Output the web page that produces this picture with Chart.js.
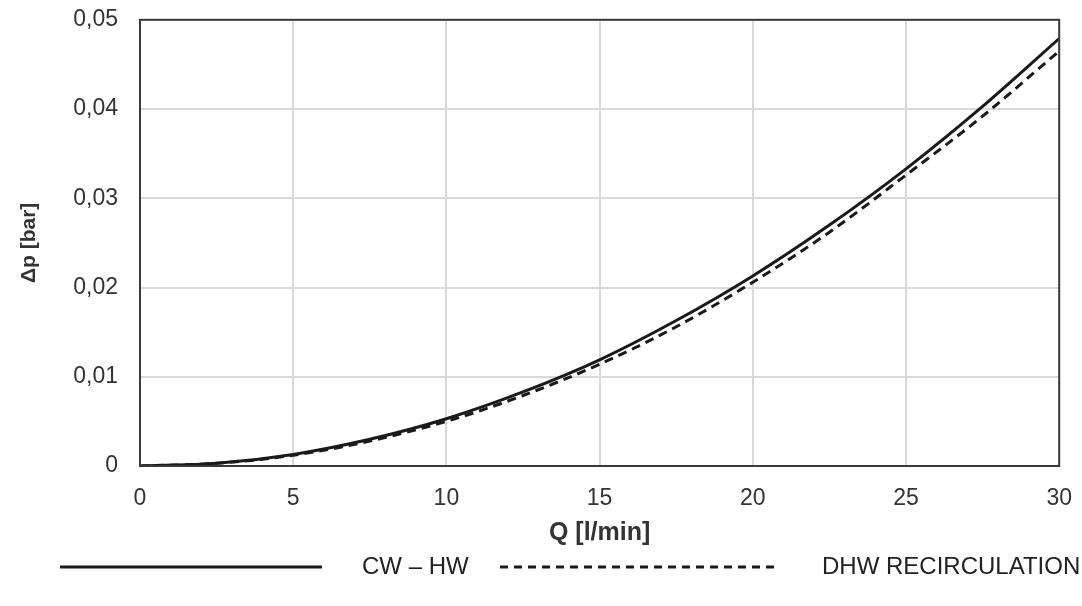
<!DOCTYPE html>
<html>
<head>
<meta charset="utf-8">
<script src="https://cdn.jsdelivr.net/npm/chart.js"></script>
<style>
  html, body { margin: 0; padding: 0; background: #fff; }
  #page { width: 1082px; height: 606px; position: relative; overflow: hidden; }
  #wrap { width: 1091px; height: 622px; position: absolute; left: 0; top: -16px; }
</style>
</head>
<body>
<div id="page"><div id="wrap"><canvas id="chart"></canvas></div></div>
<script>
// Q [l/min]
const flow = [0, 2.5, 5, 7.5, 10, 12.5, 15, 17.5, 20, 22.5, 25, 27.5, 30];
// Δp [bar]
const cwHw = [0, 0.0003, 0.0013, 0.003, 0.0053, 0.0083, 0.0119, 0.0163, 0.0213, 0.027, 0.0333, 0.0403, 0.0479];
const dhwRecirc = [0, 0.0003, 0.0012, 0.0028, 0.005, 0.0079, 0.0114, 0.0156, 0.0206, 0.0262, 0.0326, 0.0392, 0.0465];
const yTicks = [0, 0.01, 0.02, 0.03, 0.04, 0.05];
const legendLabels = ["CW – HW", "DHW RECIRCULATION"];

const font = "'Liberation Sans', Arial, sans-serif";

// cadre + légende dessinés à la main (canvas décalé de 16px vers le haut)
const framePlugin = {
    id: "frame",
    afterDraw(chart) {
        const { ctx, chartArea: a } = chart;
        ctx.save();
        ctx.strokeStyle = "#3a3a3a";
        ctx.lineWidth = 2;
        ctx.strokeRect(a.left, a.top, a.right - a.left, a.bottom - a.top);

        const y = 567 + 16;
        ctx.strokeStyle = "#1a1a1a";
        ctx.lineWidth = 3;
        ctx.beginPath();
        ctx.moveTo(60, y);
        ctx.lineTo(322, y);
        ctx.stroke();
        ctx.setLineDash([8, 6]);
        ctx.beginPath();
        ctx.moveTo(500, y);
        ctx.lineTo(778, y);
        ctx.stroke();
        ctx.setLineDash([]);

        ctx.fillStyle = "#222";
        ctx.font = "24px " + font;
        ctx.textBaseline = "middle";
        ctx.fillText(legendLabels[0], 362, y);
        ctx.fillText(legendLabels[1], 822, y);
        ctx.restore();
    }
};

new Chart(document.getElementById("chart"), {
    type: "line",
    data: {
        datasets: [{
            label: legendLabels[0],
            data: flow.map((q, i) => ({ x: q, y: cwHw[i] })),
            borderColor: "#1a1a1a",
            borderWidth: 3,
            pointRadius: 0,
            cubicInterpolationMode: "monotone"
        }, {
            label: legendLabels[1],
            data: flow.map((q, i) => ({ x: q, y: dhwRecirc[i] })),
            borderColor: "#1a1a1a",
            borderWidth: 3,
            borderDash: [9, 6],
            pointRadius: 0,
            cubicInterpolationMode: "monotone"
        }]
    },
    options: {
        responsive: true,
        maintainAspectRatio: false,
        animation: false,
        layout: { padding: { top: 5, right: 14, bottom: 54, left: 0 } },
        plugins: {
            legend: { display: false },
            tooltip: { enabled: false }
        },
        scales: {
            x: {
                type: "linear",
                min: 0,
                max: 30,
                ticks: { stepSize: 5, color: "#333", padding: 19, font: { family: font, size: 23 } },
                grid: { color: "#d9d9d9", lineWidth: 2, drawTicks: false },
                border: { display: false },
                title: { display: true, text: "Q [l/min]", color: "#333", font: { family: font, size: 25, weight: "bold" }, padding: { top: 6 } },
                afterFit(scale) { scale.height = 86; }
            },
            y: {
                min: 0,
                max: 0.05,
                afterBuildTicks(scale) { scale.ticks = yTicks.map(v => ({ value: v })); },
                ticks: {
                    color: "#333",
                    padding: 22,
                    font: { family: font, size: 23 },
                    callback: v => v === 0 ? "0" : v.toFixed(2).replace(".", ",")
                },
                grid: { color: "#d9d9d9", lineWidth: 2, drawTicks: false },
                border: { display: false },
                title: { display: true, text: "Δp [bar]", color: "#333", font: { family: font, size: 21, weight: "bold" }, padding: { top: 17, bottom: 0 } },
                afterFit(scale) { scale.width = 140; }
            }
        }
    },
    plugins: [framePlugin]
});
</script>
</body>
</html>
